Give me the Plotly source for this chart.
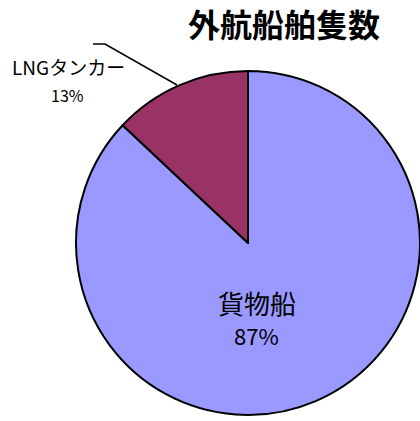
import plotly.graph_objects as go

labels = ["貨物船", "LNGタンカー"]
values = [87, 13]
colors = ["#9999FF", "#993366"]
title = "外航船舶隻数"

W, H = 420, 421
FONT = "Noto Sans CJK JP"

fig = go.Figure(go.Pie(
    labels=labels,
    values=values,
    sort=False,
    direction="clockwise",
    rotation=0,
    textinfo="none",
    hoverinfo="label+percent",
    marker=dict(colors=colors, line=dict(color="black", width=2)),
    domain=dict(x=[76 / W, 1.0], y=[6 / H, 350 / H]),
    showlegend=False,
))

total = sum(values)
pcts = [f"{round(v / total * 100)}%" for v in values]

def px(x):
    return x / W

def py(y):
    return 1 - y / H

annotations = [
    dict(text=f"<b>{title}</b>", x=px(284), y=py(23), font=dict(size=32, color="black", family=FONT)),
    dict(text=labels[1], x=px(68), y=py(67), font=dict(size=19, color="black", family=FONT)),
    dict(text=pcts[1], x=px(67), y=py(95), font=dict(size=16, color="black", family=FONT)),
    dict(text=labels[0], x=px(257), y=py(302), font=dict(size=26, color="black", family=FONT)),
    dict(text=pcts[0], x=px(256), y=py(335), font=dict(size=22, color="black", family=FONT)),
]
for a in annotations:
    a.update(xref="paper", yref="paper", showarrow=False, xanchor="center", yanchor="middle")

fig.update_layout(
    width=W, height=H,
    margin=dict(l=0, r=0, t=0, b=0),
    paper_bgcolor="white",
    plot_bgcolor="white",
    annotations=annotations,
    shapes=[dict(
        type="path", xref="paper", yref="paper",
        path=f"M {px(93)} {py(44)} L {px(105)} {py(44)} L {px(177)} {py(85)}",
        line=dict(color="black", width=1.5),
    )],
)

fig.write_html("out.html")
